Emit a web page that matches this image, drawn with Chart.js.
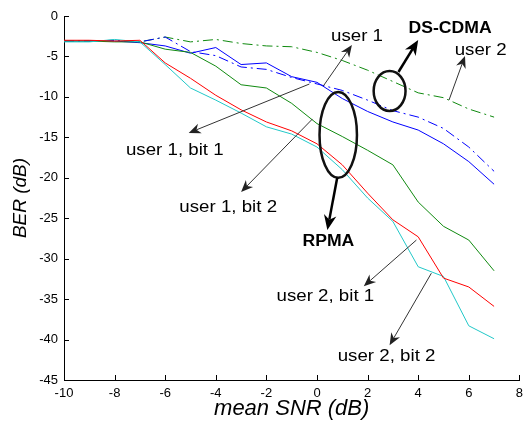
<!DOCTYPE html>
<html>
<head>
<meta charset="utf-8">
<script src="https://cdn.jsdelivr.net/npm/chart.js@4.4.0/dist/chart.umd.min.js"></script>
<style>
  html, body { margin: 0; padding: 0; background: #fff; }
  #wrap { width: 529px; height: 423px; }
</style>
</head>
<body>
<div id="wrap"><canvas id="berChart"></canvas></div>
<script>
// mean SNR (dB) sample points
const snr = [-10, -9, -8, -7, -6, -5, -4, -3, -2, -1, 0, 1, 2, 3, 4, 5, 6, 7];

// RPMA curves (BER in dB)
const rpmaUser1Bit1 = [-3.1, -3.1, -3.1, -3.3, -3.7, -4.6, -3.9, -6.0, -5.8, -7.5, -8.2, -10.2, -11.8, -13.1, -14.1, -15.8, -18.0, -20.8];
const rpmaUser1Bit2 = [-3.1, -3.1, -3.2, -3.2, -4.1, -4.5, -6.2, -8.5, -8.9, -10.8, -13.3, -14.9, -16.6, -18.4, -23.0, -26.0, -27.7, -31.5];
const rpmaUser2Bit1 = [-3.0, -3.0, -3.1, -3.0, -5.8, -7.7, -9.8, -11.6, -13.1, -14.2, -15.8, -18.4, -21.9, -25.2, -27.3, -32.4, -33.5, -35.9];
const rpmaUser2Bit2 = [-3.2, -3.2, -2.9, -3.2, -6.0, -8.9, -10.4, -12.0, -13.7, -14.6, -16.2, -19.0, -22.5, -25.4, -31.0, -32.2, -38.3, -39.9];

// DS-CDMA curves (BER in dB)
const dsUser1 = [-3.1, -3.1, -3.0, -3.2, -2.6, -4.4, -4.9, -6.3, -6.6, -7.6, -8.4, -9.2, -10.4, -11.7, -12.5, -13.9, -16.2, -19.2];
const dsUser2 = [-3.1, -3.1, -3.0, -3.2, -2.6, -3.2, -2.9, -3.4, -3.7, -3.8, -4.5, -5.5, -6.7, -8.1, -9.5, -10.1, -11.5, -12.5];

// tick labels
const xTicks = [-10, -8, -6, -4, -2, 0, 2, 4, 6, 8];
const yTicks = [0, -5, -10, -15, -20, -25, -30, -35, -40, -45];

// annotations, in data units
const notes = [
  { text: 'user 1', x: 1.58, y: -2.5 },
  { text: 'DS-CDMA', x: 5.26, y: -1.6, bold: true },
  { text: 'user 2', x: 6.47, y: -4.2 },
  { text: 'user 1, bit 1', x: -5.62, y: -16.6 },
  { text: 'user 1, bit 2', x: -3.51, y: -23.7 },
  { text: 'RPMA', x: 0.45, y: -27.9, bold: true },
  { text: 'user 2, bit 1', x: 0.33, y: -34.6 },
  { text: 'user 2, bit 2', x: 2.75, y: -42.1 }
];
const arrows = [
  { from: [0.25, -8.65], to: [1.38, -3.58] },
  { from: [5.22, -10.38], to: [5.85, -4.94] },
  { from: [-0.30, -8.41], to: [-5.07, -14.46] },
  { from: [-0.18, -12.73], to: [-3.0, -21.76] },
  { from: [0.80, -20.0], to: [0.41, -26.45], thick: true },
  { from: [3.22, -6.92], to: [4.0, -2.97], thick: true },
  { from: [3.93, -27.7], to: [1.85, -33.4] },
  { from: [4.52, -31.8], to: [2.87, -40.7] }
];
const ellipses = [
  { x: 2.87, y: -9.27, rx: 0.63, ry: 2.47 },
  { x: 0.84, y: -14.7, rx: 0.74, ry: 5.3 }
];

const FONT = '"Liberation Sans", Arial, sans-serif';

function toPoints(values) {
  return snr.map((x, i) => ({ x: x, y: values[i] }));
}

// tick marks drawn inside the axes, like the original figure
const innerTicks = {
  id: 'innerTicks',
  afterDraw(chart) {
    const { ctx, chartArea, scales: { x, y } } = chart;
    ctx.save();
    ctx.strokeStyle = '#000';
    ctx.lineWidth = 1;
    ctx.beginPath();
    x.ticks.forEach(t => {
      const px = Math.round(x.getPixelForValue(t.value)) + 0.5;
      ctx.moveTo(px, chartArea.bottom);
      ctx.lineTo(px, chartArea.bottom - 5);
    });
    y.ticks.forEach(t => {
      const py = Math.round(y.getPixelForValue(t.value)) + 0.5;
      ctx.moveTo(chartArea.left, py);
      ctx.lineTo(chartArea.left + 5, py);
    });
    ctx.stroke();
    ctx.restore();
  }
};

function drawArrow(ctx, x1, y1, x2, y2, width, head) {
  const a = Math.atan2(y2 - y1, x2 - x1);
  const c = Math.cos(a), s = Math.sin(a);
  ctx.lineWidth = width;
  ctx.beginPath();
  ctx.moveTo(x1, y1);
  ctx.lineTo(x2 - c * head * 0.7, y2 - s * head * 0.7);
  ctx.stroke();
  const hw = head * 0.42;
  ctx.beginPath();
  ctx.moveTo(x2, y2);
  ctx.lineTo(x2 - c * head + s * hw, y2 - s * head - c * hw);
  ctx.lineTo(x2 - c * head * 0.7, y2 - s * head * 0.7);
  ctx.lineTo(x2 - c * head - s * hw, y2 - s * head + c * hw);
  ctx.closePath();
  ctx.fill();
}

const annotations = {
  id: 'annotations',
  afterDraw(chart) {
    const { ctx, scales: { x, y } } = chart;
    ctx.save();
    ctx.strokeStyle = '#111';
    ctx.fillStyle = '#111';
    ctx.lineJoin = 'round';

    ellipses.forEach(e => {
      const cx = x.getPixelForValue(e.x), cy = y.getPixelForValue(e.y);
      const rx = Math.abs(x.getPixelForValue(e.x + e.rx) - cx);
      const ry = Math.abs(y.getPixelForValue(e.y + e.ry) - cy);
      ctx.lineWidth = 2.5;
      ctx.beginPath();
      ctx.ellipse(cx, cy, rx, ry, 0, 0, Math.PI * 2);
      ctx.stroke();
    });

    arrows.forEach(a => {
      ctx.strokeStyle = a.thick ? '#000' : '#333';
      ctx.fillStyle = a.thick ? '#000' : '#222';
      drawArrow(ctx,
        x.getPixelForValue(a.from[0]), y.getPixelForValue(a.from[1]),
        x.getPixelForValue(a.to[0]), y.getPixelForValue(a.to[1]),
        a.thick ? 2.5 : 1, a.thick ? 15 : 12);
    });

    ctx.fillStyle = '#000';
    ctx.textAlign = 'center';
    ctx.textBaseline = 'middle';
    notes.forEach(n => {
      ctx.save();
      ctx.translate(x.getPixelForValue(n.x), y.getPixelForValue(n.y));
      ctx.scale(1.1, 1);
      ctx.font = (n.bold ? 'bold 16px ' : '17px ') + FONT;
      ctx.fillText(n.text, 0, 0);
      ctx.restore();
    });
    ctx.restore();
  }
};

const berData = {
  datasets: [
    { label: 'RPMA user 2, bit 1', data: toPoints(rpmaUser2Bit1), borderColor: '#ff0000' },
    { label: 'RPMA user 2, bit 2', data: toPoints(rpmaUser2Bit2), borderColor: '#22c8c8' },
    { label: 'RPMA user 1, bit 2', data: toPoints(rpmaUser1Bit2), borderColor: '#108a10' },
    { label: 'RPMA user 1, bit 1', data: toPoints(rpmaUser1Bit1), borderColor: '#0000ff' },
    { label: 'DS-CDMA user 1', data: toPoints(dsUser1), borderColor: '#0000ff', borderDash: [10, 4, 2, 4] },
    { label: 'DS-CDMA user 2', data: toPoints(dsUser2), borderColor: '#108a10', borderDash: [10, 4, 2, 4] }
  ]
};

const berConfig = {
  type: 'line',
  data: berData,
  options: {
    responsive: true,
    maintainAspectRatio: false,
    animation: false,
    layout: { padding: { top: 16, right: 5, left: 0, bottom: 0 } },
    elements: {
      line: { borderWidth: 1, tension: 0, fill: false },
      point: { radius: 0, hoverRadius: 0 }
    },
    plugins: {
      legend: { display: false },
      tooltip: { enabled: false }
    },
    scales: {
      x: {
        type: 'linear',
        min: -10,
        max: 8,
        afterBuildTicks: scale => { scale.ticks = xTicks.map(v => ({ value: v })); },
        afterFit: scale => { scale.height = 43; },
        grid: { display: false, drawTicks: false },
        border: { display: true, color: '#000', width: 1 },
        ticks: { color: '#000', padding: 6, font: { family: FONT, size: 13 }, maxRotation: 0 },
        title: {
          display: true,
          text: 'mean SNR (dB)',
          color: '#000',
          font: { family: FONT, size: 22, style: 'italic' },
          padding: { top: 0, bottom: 1 }
        }
      },
      y: {
        min: -45,
        max: 0,
        afterBuildTicks: scale => { scale.ticks = yTicks.map(v => ({ value: v })); },
        afterFit: scale => { scale.width = 64; },
        grid: { display: false, drawTicks: false },
        border: { display: true, color: '#000', width: 1 },
        ticks: { color: '#000', padding: 6, font: { family: FONT, size: 13 } },
        title: {
          display: true,
          text: 'BER (dB)',
          color: '#000',
          font: { family: FONT, size: 19, style: 'italic' },
          padding: { top: 9, bottom: 0 }
        }
      }
    }
  },
  plugins: [innerTicks, annotations]
};

const berChart = new Chart(document.getElementById('berChart'), berConfig);
</script>
</body>
</html>
